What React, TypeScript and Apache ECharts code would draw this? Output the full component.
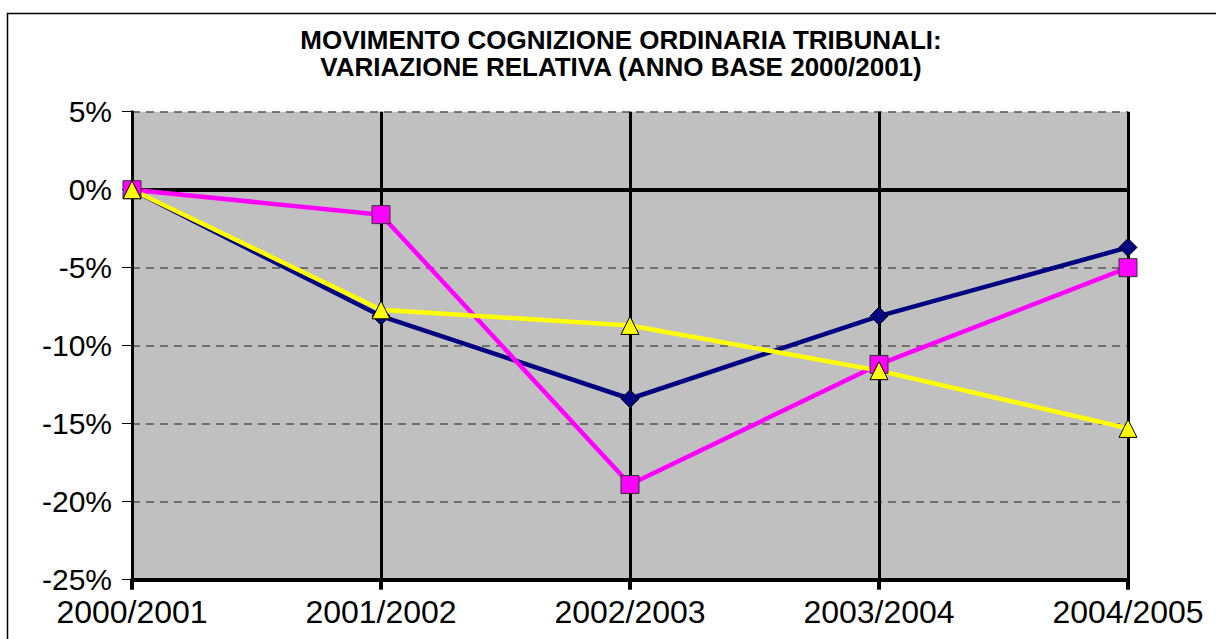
import React, { useEffect, useRef } from "react";
import * as echarts from "echarts";

const categories = ["2000/2001", "2001/2002", "2002/2003", "2003/2004", "2004/2005"];
const seriesBlue = [0, -8.1, -13.4, -8.1, -3.7];
const seriesMagenta = [0, -1.6, -18.9, -11.2, -5.0];
const seriesYellow = [0, -7.7, -8.7, -11.6, -15.3];
const titleLines = [
  "MOVIMENTO COGNIZIONE ORDINARIA TRIBUNALI:",
  "VARIAZIONE RELATIVA (ANNO BASE 2000/2001)",
];

export default function App() {
  const ref = useRef<HTMLDivElement>(null);
  useEffect(() => {
    if (!ref.current) return;
    const chart = echarts.init(ref.current, undefined, { renderer: "svg" });
    const font = "Arial, 'Liberation Sans', sans-serif";
    const mkSeries = (name: string, data: number[], color: string, symbol: string, size: number, border: string) => ({
      name,
      type: "line",
      data,
      symbol,
      symbolSize: size,
      showAllSymbol: true,
      lineStyle: { color, width: 4.5 },
      itemStyle: { color, borderColor: border, borderWidth: 1 },
      emphasis: { disabled: true },
    });
    const titleY = [40, 67];
    chart.setOption({
      animation: false,
      backgroundColor: "#fff",
      graphic: [
        {
          type: "rect",
          shape: { x: 7.5, y: 13.5, width: 1300, height: 700 },
          style: { fill: "none", stroke: "#000", lineWidth: 1.5 },
          silent: true,
        },
        ...titleLines.map((t, i) => ({
          type: "text",
          x: 621,
          y: titleY[i],
          style: {
            text: t,
            font: `bold 26px ${font}`,
            lineHeight: 26,
            fill: "#000",
            align: "center",
            verticalAlign: "middle",
          },
          silent: true,
        })),
      ],
      grid: {
        left: 132,
        right: 88,
        top: 111.7,
        bottom: 59.3,
        show: true,
        backgroundColor: "#c0c0c0",
        borderWidth: 0,
      },
      xAxis: [
        {
          type: "category",
          data: categories,
          boundaryGap: false,
          position: "bottom",
          axisLine: { onZero: false, lineStyle: { color: "#000", width: 4 } },
          axisTick: { show: true, length: 10, lineStyle: { color: "#000", width: 4 } },
          axisLabel: { color: "#000", fontSize: 32, fontFamily: font, margin: 16 },
          splitLine: { show: true, lineStyle: { color: "#000", width: 3 } },
        },
        {
          type: "category",
          data: categories,
          boundaryGap: false,
          axisLine: { onZero: true, lineStyle: { color: "#000", width: 4 } },
          axisTick: { show: false },
          axisLabel: { show: false },
          splitLine: { show: false },
        },
      ],
      yAxis: {
        type: "value",
        min: -25,
        max: 5,
        interval: 5,
        axisLine: { show: true, lineStyle: { color: "#000", width: 3 } },
        axisTick: { show: true, length: 10, lineStyle: { color: "#000", width: 1 } },
        axisLabel: {
          color: "#000",
          fontSize: 30,
          fontFamily: font,
          margin: 20,
          formatter: (v: number) => `${v}%`,
        },
        splitLine: { show: true, lineStyle: { color: "#555", width: 1.5, type: [8, 6] } },
      },
      series: [
        mkSeries("Blue", seriesBlue, "#000080", "diamond", 18, "#000"),
        mkSeries("Magenta", seriesMagenta, "#ff00ff", "rect", 18, "#333"),
        mkSeries("Yellow", seriesYellow, "#ffff00", "triangle", 18, "#000"),
      ],
    });
    return () => chart.dispose();
  }, []);
  return (
    <div
      ref={ref}
      style={{ position: "absolute", left: 0, top: 0, width: 1216, height: 639 }}
    />
  );
}
